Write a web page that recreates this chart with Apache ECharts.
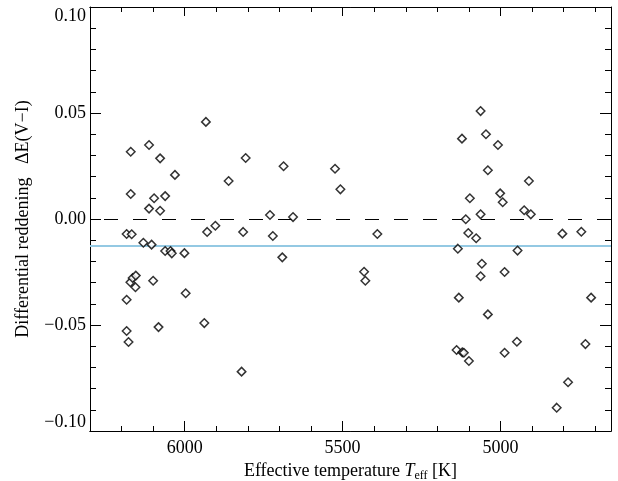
<!DOCTYPE html>
<html>
<head>
<meta charset="utf-8">
<script src="https://cdn.jsdelivr.net/npm/echarts@6/dist/echarts.min.js"></script>
<style>html,body{margin:0;padding:0;background:#fff}#c{width:618px;height:481px}</style>
</head>
<body>
<div id="c"></div>
<script>
// Effective temperature (K)
const teff = [
  6171, 6113, 6078, 6031, 5933, 6171, 6097, 6113, 6062, 6078,
  5861, 5807, 5687, 5524, 5507, 5730, 5657, 6184, 6168, 5929,
  5903, 5815, 5721, 5390, 6131, 6105, 6062, 6045, 6041, 6001,
  5691, 5432, 5428, 6172, 6165, 6155, 6156, 6100, 6184, 5997,
  6184, 6178, 6083, 5938, 5820,
  5063, 5122, 5046, 5008, 5040, 4910, 5097, 5001, 4993, 5110,
  5063, 4925, 4904, 5102, 5077, 4804, 4744, 5135, 4946, 5059,
  5063, 4987, 5132, 4713, 5040, 4948, 4731, 5139, 5121, 5116,
  5100, 4987, 4786, 4822
];
// Differential reddening dE(V-I)
const dEVI = [
  0.0317, 0.0349, 0.0286, 0.0208, 0.0458, 0.0118, 0.0098, 0.0049, 0.0108, 0.0039,
  0.0179, 0.0288, 0.0249, 0.0237, 0.0140, 0.0019, 0.0009, -0.0071, -0.0072, -0.0061,
  -0.0032, -0.0061, -0.0080, -0.0071, -0.0112, -0.0121, -0.0151, -0.0151, -0.0162, -0.0161,
  -0.0181, -0.0249, -0.0291, -0.0298, -0.0278, -0.0267, -0.0322, -0.0291, -0.0381, -0.0350,
  -0.0528, -0.0580, -0.0510, -0.0491, -0.0720,
  0.0509, 0.0379, 0.0400, 0.0349, 0.0230, 0.0179, 0.0098, 0.0121, 0.0079, -0.0001,
  0.0022, 0.0041, 0.0022, -0.0066, -0.0091, -0.0069, -0.0060, -0.0140, -0.0149, -0.0211,
  -0.0270, -0.0250, -0.0371, -0.0371, -0.0450, -0.0579, -0.0590, -0.0618, -0.0629, -0.0631,
  -0.0670, -0.0631, -0.0770, -0.0890
];
const meanLevel = -0.0126;
const zeroLevel = 0;
const xMajorTicks = [5000, 5500, 6000];
const xMinorTicks = [4700, 4800, 4900, 5100, 5200, 5300, 5400, 5600, 5700, 5800, 5900, 6100, 6200];

const FF = '"Liberation Serif", "DejaVu Serif", serif';
const black = '#000';
const points = teff.map((t, i) => [t, dEVI[i]]);

function xAxisDef(pos, ticks, len, labels) {
  return {
    type: 'value', position: pos, inverse: true, min: 4650, max: 6300,
    axisLine: { show: true, onZero: false, lineStyle: { color: black, width: 1 } },
    axisTick: { show: true, inside: true, length: len, customValues: ticks, lineStyle: { color: black, width: 1 } },
    axisLabel: labels ? { show: true, customValues: ticks, color: black, fontFamily: FF, fontSize: 18, margin: 8,
      formatter: v => String(Math.round(v)) } : { show: false },
    splitLine: { show: false }
  };
}
function yAxisDef(pos, labels) {
  return {
    type: 'value', position: pos, min: -0.1, max: 0.1, interval: 0.05,
    axisLine: { show: true, onZero: false, lineStyle: { color: black, width: 1 } },
    axisTick: { show: true, inside: true, length: 11, lineStyle: { color: black, width: 1 } },
    minorTick: { show: true, splitNumber: 5, length: 6, lineStyle: { color: black, width: 1 } },
    axisLabel: labels ? {
      show: true, color: black, fontFamily: FF, fontSize: 18, margin: 4,
      verticalAlignMaxLabel: 'top', verticalAlignMinLabel: 'bottom',
      formatter: v => (v < -1e-9 ? '\u2212' : '') + Math.abs(v).toFixed(2)
    } : { show: false },
    splitLine: { show: false }, minorSplitLine: { show: false }
  };
}

const xs = [
  xAxisDef('bottom', xMajorTicks, 10, true),
  xAxisDef('bottom', xMinorTicks, 5, false),
  xAxisDef('top', xMajorTicks, 9, false),
  xAxisDef('top', xMinorTicks, 5, false)
];
xs[0].name = '{n|Effective temperature }{i|T}{s|eff}{n| [K]}';
xs[0].nameLocation = 'middle';
xs[0].nameGap = 27;
xs[0].nameTextStyle = {
  color: black, fontFamily: FF, fontSize: 18,
  rich: {
    n: { fontFamily: FF, fontSize: 18, color: black },
    i: { fontFamily: FF, fontSize: 18, fontStyle: 'italic', color: black },
    s: { fontFamily: FF, fontSize: 12, color: black, padding: [9, 0, 0, 0] }
  }
};
const ys = [yAxisDef('left', true), yAxisDef('right', false)];
ys[0].name = 'Differential reddening   \u0394E(V\u2212I)';
ys[0].nameLocation = 'middle';
ys[0].nameGap = 58;
ys[0].nameTextStyle = { color: black, fontFamily: FF, fontSize: 18 };

const chart = echarts.init(document.getElementById('c'), null, { renderer: 'canvas' });
chart.setOption({
  backgroundColor: '#fff',
  animation: false,
  grid: { left: 90, right: 7, top: 7, bottom: 50, containLabel: false, outerBoundsMode: 'none' },
  xAxis: xs,
  yAxis: ys,
  series: [{
    type: 'scatter', xAxisIndex: 0, yAxisIndex: 0,
    data: points,
    symbol: 'diamond', symbolSize: 8.5,
    itemStyle: { color: '#fff', borderColor: black, borderWidth: 1.5 },
    z: 3,
    markLine: {
      silent: true, symbol: 'none', z: 2, precision: 5,
      label: { show: false },
      data: [
        { yAxis: zeroLevel, lineStyle: { color: black, width: 1, type: [14, 15], dashOffset: 0 } },
        { yAxis: meanLevel, lineStyle: { color: '#94c9e3', width: 2, type: 'solid' } }
      ]
    }
  }]
});
</script>
</body>
</html>
